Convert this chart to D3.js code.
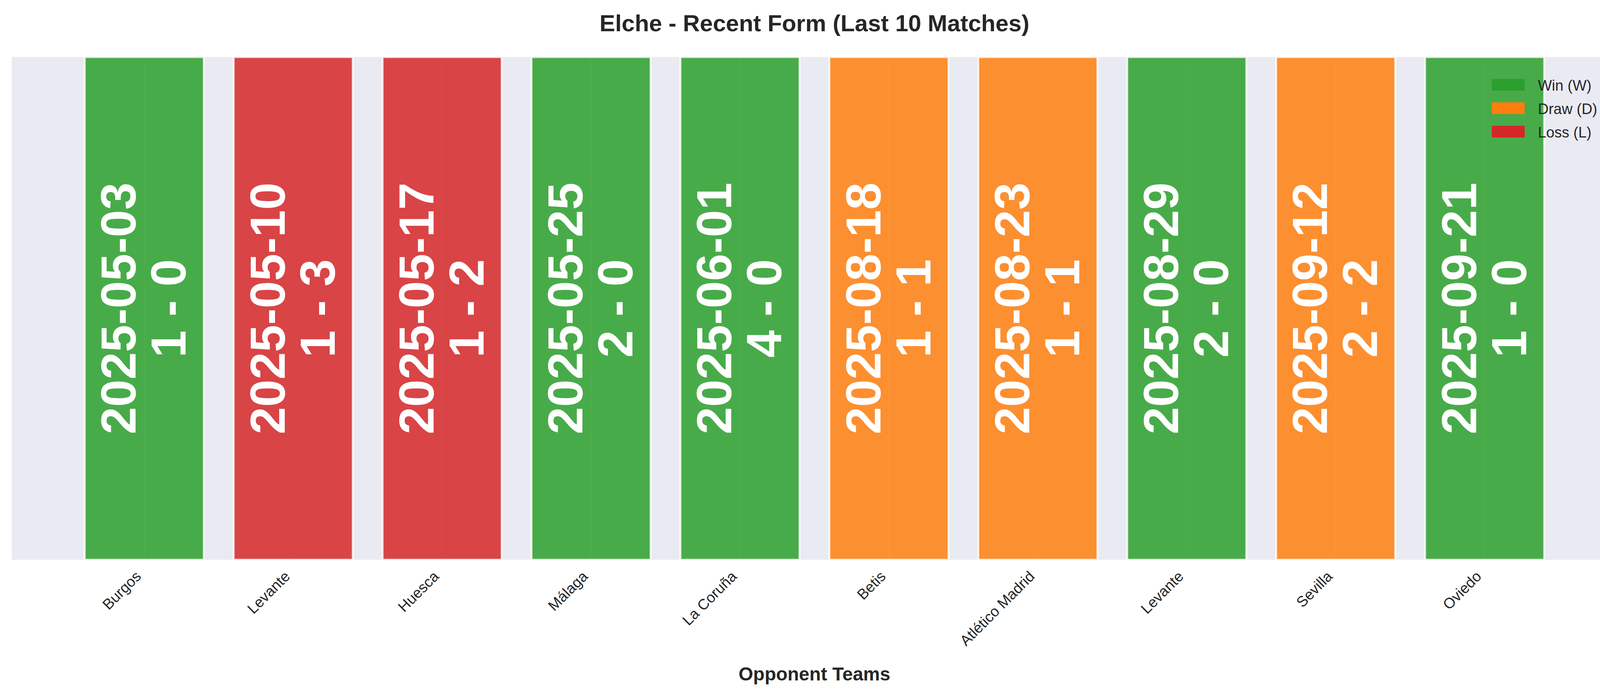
<!DOCTYPE html>
<html>
<head>
<meta charset="utf-8">
<script src="https://cdn.jsdelivr.net/npm/d3@7"></script>
<style>
  body { margin: 0; background: #fff; }
  text { font-family: "Liberation Sans", Arial, sans-serif; }
</style>
</head>
<body>
<svg id="chart" width="4170" height="1769"></svg>
<script>
/* Match data */
var opponents = ["Burgos", "Levante", "Huesca", "Málaga", "La Coruña", "Betis", "Atlético Madrid", "Levante", "Sevilla", "Oviedo"];
var dates = ["2025-05-03", "2025-05-10", "2025-05-17", "2025-05-25", "2025-06-01", "2025-08-18", "2025-08-23", "2025-08-29", "2025-09-12", "2025-09-21"];
var scores = ["1 - 0", "1 - 3", "1 - 2", "2 - 0", "4 - 0", "1 - 1", "1 - 1", "2 - 0", "2 - 2", "1 - 0"];
var results = ["W", "L", "L", "W", "W", "D", "D", "W", "D", "W"];

var resultKeys = ["W", "D", "L"];
var resultNames = ["Win (W)", "Draw (D)", "Loss (L)"];
var colors = { W: "#2ca02c", D: "#ff7f0e", L: "#d62728" };

var svg = d3.select("#chart");
var plotLeft = 30, plotRight = 4140, plotTop = 146, plotBottom = 1433;

var x = d3.scaleLinear().domain([-0.89, opponents.length - 0.11]).range([plotLeft, plotRight]);
var y = d3.scaleLinear().domain([0, 1]).range([plotBottom, plotTop]);
var barW = x(0.8) - x(0);

// Plot background
svg.append("rect")
	.attr("x", plotLeft).attr("y", plotTop)
	.attr("width", plotRight - plotLeft).attr("height", plotBottom - plotTop)
	.attr("fill", "#eaeaf2");

// Vertical grid lines
svg.selectAll(".grid").data(opponents).enter().append("line")
	.attr("x1", function(d, i) { return x(i); })
	.attr("x2", function(d, i) { return x(i); })
	.attr("y1", plotTop).attr("y2", plotBottom)
	.attr("stroke", "#fff").attr("stroke-width", 3);

// Bars
svg.selectAll(".bar").data(results).enter().append("rect")
	.attr("x", function(d, i) { return x(i) - barW / 2; })
	.attr("y", y(1))
	.attr("width", barW)
	.attr("height", y(0) - y(1))
	.attr("fill", function(d) { return colors[d]; })
	.attr("fill-opacity", 0.85)
	.attr("stroke", "#fff").attr("stroke-opacity", 0.8).attr("stroke-width", 5);

// Date and score labels inside bars
var mid = y(0.5);
dates.forEach(function(d, i) {
	var g = svg.append("g").attr("transform", "translate(" + x(i) + "," + mid + ") rotate(-90)");
	g.append("text")
		.attr("x", 0).attr("y", -22)
		.attr("text-anchor", "middle")
		.attr("font-size", 126).attr("font-weight", "bold").attr("fill", "#fff")
		.text(d);
	g.append("text")
		.attr("x", 0).attr("y", 106)
		.attr("text-anchor", "middle")
		.attr("font-size", 126).attr("font-weight", "bold").attr("fill", "#fff")
		.text(scores[i]);
});

// X tick labels
opponents.forEach(function(d, i) {
	svg.append("text")
		.attr("transform", "translate(" + (x(i) - 6) + "," + 1478 + ") rotate(-45)")
		.attr("text-anchor", "end")
		.attr("font-size", 38).attr("fill", "#262626")
		.text(d);
});

// Title and axis label
svg.append("text")
	.attr("x", (plotLeft + plotRight) / 2).attr("y", 80)
	.attr("text-anchor", "middle")
	.attr("font-size", 60).attr("font-weight", "bold").attr("fill", "#262626")
	.text("Elche - Recent Form (Last 10 Matches)");

svg.append("text")
	.attr("x", (plotLeft + plotRight) / 2).attr("y", 1742)
	.attr("text-anchor", "middle")
	.attr("font-size", 48).attr("font-weight", "bold").attr("fill", "#262626")
	.text("Opponent Teams");

// Legend
resultKeys.forEach(function(k, i) {
	svg.append("rect")
		.attr("x", 3819).attr("y", 202 + i * 60)
		.attr("width", 84).attr("height", 30)
		.attr("fill", colors[k]);
	svg.append("text")
		.attr("x", 3937).attr("y", 232 + i * 60)
		.attr("font-size", 38).attr("fill", "#262626")
		.text(resultNames[i]);
});
</script>
</body>
</html>
